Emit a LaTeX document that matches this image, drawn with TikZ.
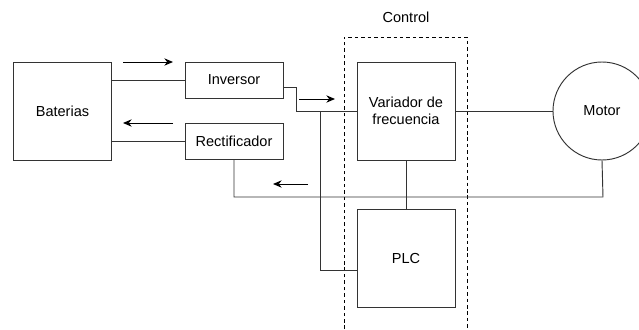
\documentclass[tikz,border=0pt]{standalone}
\usepackage{fontspec}
\setmainfont{Liberation Sans}
\usetikzlibrary{positioning,arrows.meta,calc}
\definecolor{ink}{HTML}{000000}
\definecolor{wire}{HTML}{333333}
\tikzset{
  blk/.style={draw=wire, line width=0.8pt, fill=white, align=center, font=\fontsize{12.4}{14.5}\selectfont,
              inner sep=0pt, minimum width=#1},
  blk/.default=2.94cm,
  mot/.style={draw=wire, line width=0.8pt, circle, fill=white, font=\fontsize{12.4}{14.5}\selectfont,
              minimum size=2.94cm, inner sep=0pt},
  wre/.style={draw=wire, line width=0.8pt},
  flow/.style={-{Stealth[length=2.6mm,width=2.2mm]}, line width=0.8pt, draw=ink},
  zone/.style={draw=ink, line width=0.8pt, dashed, dash pattern=on 3pt off 2.5pt},
  lbl/.style={font=\fontsize{12.4}{14.5}\selectfont, text=ink},
}
\begin{document}
\begin{tikzpicture}[x=0.03cm, y=-0.03cm]
  \useasboundingbox (0,0) rectangle (639,329);
  % ---- control zone ----
  \draw[zone] (344,329) -- (344,37) -- (467,37) -- (467,329);
  \node[lbl] (ctl) at (406,17) {Control};
  % ---- blocks ----
  \node[blk, minimum height=2.94cm] (bat) at (62.5,111) {Baterias};
  \node[blk, minimum height=1.08cm] (inv) at (234,80)  {Inversor};
  \node[blk, minimum height=1.08cm] (rec) at (234,141) {Rectificador};
  \node[blk, minimum height=2.94cm] (var) at (406,111) {Variador de\\frecuencia};
  \node[blk, minimum height=2.94cm] (plc) at (406,258) {PLC};
  \node[mot] (mot) at (602,111) {Motor};
  % ---- wiring ----
  \coordinate (jn) at (320,111);
  \draw[wre] (bat.east |- inv) -- (inv.west);
  \draw[wre] (bat.east |- rec) -- (rec.west);
  \draw[wre] ([yshift=-0.21cm]inv.east) -| (296,111) -- (var.west);
  \draw[wre] (jn) |- (plc.west |- 0,270);
  \draw[wre] (var.south) -- (plc.north);
  \draw[wre] (var.east) -- (mot.west);
  \draw[wre] (rec.south) |- (603,197) -- (mot.south);
  % ---- flow arrows ----
  \coordinate (a1) at (123,62);  \coordinate (b1) at (173,62);
  \coordinate (a2) at (173,123); \coordinate (b2) at (123,123);
  \coordinate (a3) at (299,99);  \coordinate (b3) at (335,99);
  \coordinate (a4) at (308,184); \coordinate (b4) at (273,184);
  \draw[flow] (a1) -- (b1);
  \draw[flow] (a2) -- (b2);
  \draw[flow] (a3) -- (b3);
  \draw[flow] (a4) -- (b4);
\end{tikzpicture}
\end{document}
